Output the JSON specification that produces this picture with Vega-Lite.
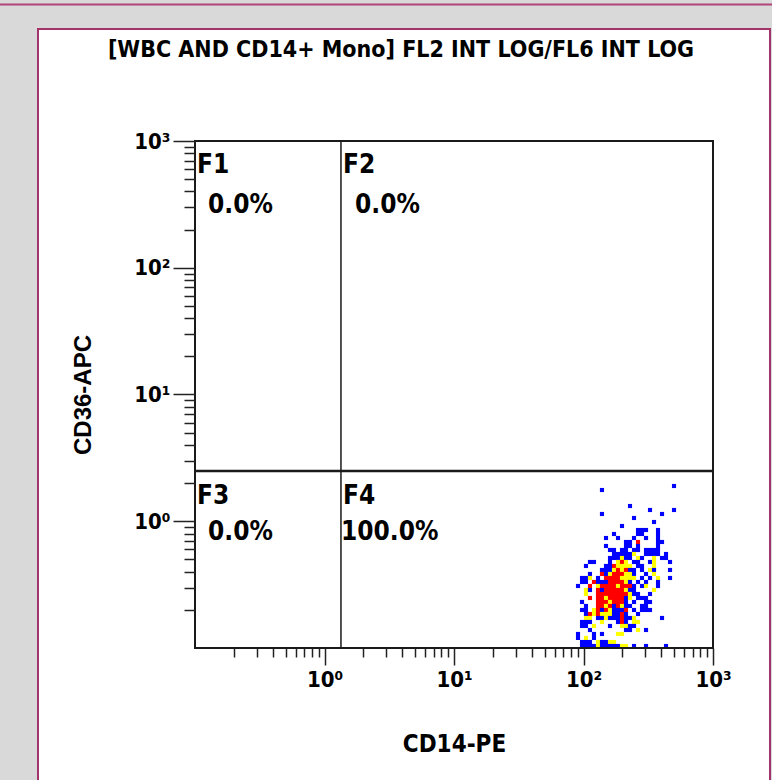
{
  "$schema": "https://vega.github.io/schema/vega-lite/v6.json",
  "width": 518,
  "height": 507,
  "autosize": "none",
  "padding": {"left": 195, "top": 141, "right": 59, "bottom": 132},
  "background": "#d9d9d9",
  "config": {"view": {"stroke": null}},
  "title": {
    "text": "[WBC AND CD14+ Mono] FL2 INT LOG/FL6 INT LOG",
    "anchor": "middle",
    "frame": "group",
    "dx": -53,
    "offset": -58,
    "font": "Liberation Sans Narrow, Arial Narrow, DejaVu Sans Condensed, sans-serif",
    "fontSize": 23,
    "fontWeight": "bold",
    "color": "#000000"
  },
  "datasets": {
    "cells": [
      {"x":500.0,"y":1.897,"level":"low"},
      {"x":138.9,"y":1.764,"level":"low"},
      {"x":228.6,"y":1.319,"level":"low"},
      {"x":326.3,"y":1.227,"level":"low"},{"x":500.0,"y":1.227,"level":"low"},
      {"x":138.9,"y":1.141,"level":"low"},{"x":404.0,"y":1.141,"level":"low"},
      {"x":245.5,"y":1.061,"level":"low"},
      {"x":350.4,"y":0.9865,"level":"low"},
      {"x":198.3,"y":0.9174,"level":"low"},
      {"x":263.6,"y":0.8531,"level":"low"},{"x":283.0,"y":0.8531,"level":"low"},{"x":303.9,"y":0.8531,"level":"low"},{"x":376.2,"y":0.8531,"level":"low"},
      {"x":172.0,"y":0.7933,"level":"low"},{"x":263.6,"y":0.7933,"level":"low"},{"x":283.0,"y":0.7933,"level":"low"},{"x":376.2,"y":0.7933,"level":"low"},
      {"x":149.2,"y":0.7377,"level":"low"},{"x":184.7,"y":0.7377,"level":"low"},{"x":245.5,"y":0.7377,"level":"low"},{"x":303.9,"y":0.7377,"level":"low"},{"x":376.2,"y":0.7377,"level":"low"},
      {"x":212.9,"y":0.6861,"level":"low"},{"x":228.6,"y":0.6861,"level":"low"},{"x":263.6,"y":0.6861,"level":"high"},{"x":376.2,"y":0.6861,"level":"low"},{"x":404.0,"y":0.6861,"level":"low"},
      {"x":149.2,"y":0.638,"level":"low"},{"x":212.9,"y":0.638,"level":"low"},{"x":228.6,"y":0.638,"level":"low"},{"x":263.6,"y":0.638,"level":"low"},{"x":376.2,"y":0.638,"level":"low"},
      {"x":160.2,"y":0.5933,"level":"low"},{"x":172.0,"y":0.5933,"level":"low"},{"x":198.3,"y":0.5933,"level":"low"},{"x":212.9,"y":0.5933,"level":"low"},{"x":245.5,"y":0.5933,"level":"low"},{"x":263.6,"y":0.5933,"level":"low"},{"x":303.9,"y":0.5933,"level":"low"},{"x":326.3,"y":0.5933,"level":"low"},{"x":350.4,"y":0.5933,"level":"low"},{"x":376.2,"y":0.5933,"level":"low"},
      {"x":172.0,"y":0.5517,"level":"low"},{"x":184.7,"y":0.5517,"level":"low"},{"x":198.3,"y":0.5517,"level":"low"},{"x":212.9,"y":0.5517,"level":"low"},{"x":228.6,"y":0.5517,"level":"low"},{"x":245.5,"y":0.5517,"level":"mid"},{"x":303.9,"y":0.5517,"level":"low"},{"x":326.3,"y":0.5517,"level":"low"},{"x":350.4,"y":0.5517,"level":"low"},{"x":376.2,"y":0.5517,"level":"low"},{"x":433.7,"y":0.5517,"level":"low"},
      {"x":160.2,"y":0.5131,"level":"low"},{"x":172.0,"y":0.5131,"level":"low"},{"x":184.7,"y":0.5131,"level":"low"},{"x":198.3,"y":0.5131,"level":"mid"},{"x":212.9,"y":0.5131,"level":"low"},{"x":228.6,"y":0.5131,"level":"low"},{"x":263.6,"y":0.5131,"level":"mid"},{"x":283.0,"y":0.5131,"level":"low"},{"x":350.4,"y":0.5131,"level":"mid"},{"x":404.0,"y":0.5131,"level":"low"},{"x":433.7,"y":0.5131,"level":"low"},
      {"x":112.2,"y":0.4771,"level":"low"},{"x":120.5,"y":0.4771,"level":"low"},{"x":160.2,"y":0.4771,"level":"low"},{"x":184.7,"y":0.4771,"level":"mid"},{"x":198.3,"y":0.4771,"level":"high"},{"x":212.9,"y":0.4771,"level":"mid"},{"x":245.5,"y":0.4771,"level":"low"},{"x":263.6,"y":0.4771,"level":"low"},{"x":326.3,"y":0.4771,"level":"low"},{"x":350.4,"y":0.4771,"level":"mid"},{"x":465.7,"y":0.4771,"level":"low"},
      {"x":104.5,"y":0.4437,"level":"low"},{"x":149.2,"y":0.4437,"level":"low"},{"x":160.2,"y":0.4437,"level":"low"},{"x":172.0,"y":0.4437,"level":"high"},{"x":184.7,"y":0.4437,"level":"mid"},{"x":198.3,"y":0.4437,"level":"mid"},{"x":212.9,"y":0.4437,"level":"mid"},{"x":228.6,"y":0.4437,"level":"mid"},{"x":263.6,"y":0.4437,"level":"low"},{"x":283.0,"y":0.4437,"level":"low"},{"x":350.4,"y":0.4437,"level":"mid"},
      {"x":138.9,"y":0.4126,"level":"low"},{"x":149.2,"y":0.4126,"level":"low"},{"x":160.2,"y":0.4126,"level":"low"},{"x":172.0,"y":0.4126,"level":"mid"},{"x":184.7,"y":0.4126,"level":"high"},{"x":198.3,"y":0.4126,"level":"mid"},{"x":212.9,"y":0.4126,"level":"high"},{"x":228.6,"y":0.4126,"level":"low"},{"x":245.5,"y":0.4126,"level":"low"},{"x":283.0,"y":0.4126,"level":"low"},{"x":326.3,"y":0.4126,"level":"mid"},{"x":350.4,"y":0.4126,"level":"low"},{"x":465.7,"y":0.4126,"level":"low"},
      {"x":112.2,"y":0.3837,"level":"low"},{"x":138.9,"y":0.3837,"level":"high"},{"x":149.2,"y":0.3837,"level":"low"},{"x":160.2,"y":0.3837,"level":"mid"},{"x":172.0,"y":0.3837,"level":"high"},{"x":184.7,"y":0.3837,"level":"high"},{"x":198.3,"y":0.3837,"level":"high"},{"x":212.9,"y":0.3837,"level":"mid"},{"x":228.6,"y":0.3837,"level":"mid"},{"x":245.5,"y":0.3837,"level":"low"},{"x":303.9,"y":0.3837,"level":"low"},{"x":350.4,"y":0.3837,"level":"mid"},
      {"x":97.4,"y":0.3568,"level":"low"},{"x":104.5,"y":0.3568,"level":"low"},{"x":112.2,"y":0.3568,"level":"mid"},{"x":129.4,"y":0.3568,"level":"low"},{"x":149.2,"y":0.3568,"level":"high"},{"x":160.2,"y":0.3568,"level":"high"},{"x":172.0,"y":0.3568,"level":"high"},{"x":184.7,"y":0.3568,"level":"high"},{"x":198.3,"y":0.3568,"level":"mid"},{"x":212.9,"y":0.3568,"level":"mid"},{"x":228.6,"y":0.3568,"level":"mid"},{"x":245.5,"y":0.3568,"level":"mid"},{"x":283.0,"y":0.3568,"level":"low"},{"x":326.3,"y":0.3568,"level":"low"},{"x":376.2,"y":0.3568,"level":"mid"},{"x":465.7,"y":0.3568,"level":"low"},
      {"x":97.4,"y":0.3318,"level":"low"},{"x":104.5,"y":0.3318,"level":"low"},{"x":120.5,"y":0.3318,"level":"high"},{"x":129.4,"y":0.3318,"level":"low"},{"x":138.9,"y":0.3318,"level":"low"},{"x":149.2,"y":0.3318,"level":"low"},{"x":160.2,"y":0.3318,"level":"high"},{"x":172.0,"y":0.3318,"level":"high"},{"x":184.7,"y":0.3318,"level":"high"},{"x":198.3,"y":0.3318,"level":"high"},{"x":212.9,"y":0.3318,"level":"mid"},{"x":228.6,"y":0.3318,"level":"low"},{"x":263.6,"y":0.3318,"level":"low"},{"x":303.9,"y":0.3318,"level":"low"},{"x":376.2,"y":0.3318,"level":"low"},
      {"x":90.7,"y":0.3085,"level":"low"},{"x":112.2,"y":0.3085,"level":"high"},{"x":129.4,"y":0.3085,"level":"mid"},{"x":138.9,"y":0.3085,"level":"high"},{"x":149.2,"y":0.3085,"level":"high"},{"x":160.2,"y":0.3085,"level":"high"},{"x":172.0,"y":0.3085,"level":"high"},{"x":184.7,"y":0.3085,"level":"mid"},{"x":198.3,"y":0.3085,"level":"high"},{"x":212.9,"y":0.3085,"level":"high"},{"x":228.6,"y":0.3085,"level":"high"},{"x":245.5,"y":0.3085,"level":"low"},{"x":283.0,"y":0.3085,"level":"low"},{"x":303.9,"y":0.3085,"level":"mid"},{"x":376.2,"y":0.3085,"level":"low"},
      {"x":104.5,"y":0.2869,"level":"mid"},{"x":112.2,"y":0.2869,"level":"low"},{"x":129.4,"y":0.2869,"level":"high"},{"x":138.9,"y":0.2869,"level":"low"},{"x":149.2,"y":0.2869,"level":"high"},{"x":160.2,"y":0.2869,"level":"high"},{"x":172.0,"y":0.2869,"level":"high"},{"x":184.7,"y":0.2869,"level":"high"},{"x":198.3,"y":0.2869,"level":"high"},{"x":212.9,"y":0.2869,"level":"mid"},{"x":228.6,"y":0.2869,"level":"low"},{"x":245.5,"y":0.2869,"level":"low"},{"x":350.4,"y":0.2869,"level":"mid"},
      {"x":104.5,"y":0.2668,"level":"mid"},{"x":129.4,"y":0.2668,"level":"high"},{"x":138.9,"y":0.2668,"level":"high"},{"x":149.2,"y":0.2668,"level":"high"},{"x":160.2,"y":0.2668,"level":"high"},{"x":172.0,"y":0.2668,"level":"high"},{"x":184.7,"y":0.2668,"level":"high"},{"x":198.3,"y":0.2668,"level":"high"},{"x":212.9,"y":0.2668,"level":"high"},{"x":228.6,"y":0.2668,"level":"mid"},{"x":245.5,"y":0.2668,"level":"low"},{"x":263.6,"y":0.2668,"level":"low"},{"x":326.3,"y":0.2668,"level":"low"},
      {"x":112.2,"y":0.2481,"level":"high"},{"x":129.4,"y":0.2481,"level":"high"},{"x":138.9,"y":0.2481,"level":"high"},{"x":149.2,"y":0.2481,"level":"mid"},{"x":160.2,"y":0.2481,"level":"high"},{"x":172.0,"y":0.2481,"level":"high"},{"x":184.7,"y":0.2481,"level":"high"},{"x":198.3,"y":0.2481,"level":"high"},{"x":212.9,"y":0.2481,"level":"low"},{"x":228.6,"y":0.2481,"level":"mid"},{"x":263.6,"y":0.2481,"level":"low"},{"x":283.0,"y":0.2481,"level":"low"},{"x":303.9,"y":0.2481,"level":"low"},
      {"x":97.4,"y":0.2307,"level":"low"},{"x":129.4,"y":0.2307,"level":"high"},{"x":138.9,"y":0.2307,"level":"high"},{"x":149.2,"y":0.2307,"level":"high"},{"x":160.2,"y":0.2307,"level":"mid"},{"x":172.0,"y":0.2307,"level":"high"},{"x":184.7,"y":0.2307,"level":"high"},{"x":198.3,"y":0.2307,"level":"high"},{"x":212.9,"y":0.2307,"level":"low"},{"x":245.5,"y":0.2307,"level":"low"},{"x":303.9,"y":0.2307,"level":"low"},{"x":326.3,"y":0.2307,"level":"low"},
      {"x":104.5,"y":0.2146,"level":"low"},{"x":129.4,"y":0.2146,"level":"high"},{"x":138.9,"y":0.2146,"level":"high"},{"x":149.2,"y":0.2146,"level":"mid"},{"x":160.2,"y":0.2146,"level":"high"},{"x":172.0,"y":0.2146,"level":"low"},{"x":184.7,"y":0.2146,"level":"high"},{"x":198.3,"y":0.2146,"level":"mid"},{"x":212.9,"y":0.2146,"level":"low"},{"x":228.6,"y":0.2146,"level":"low"},{"x":283.0,"y":0.2146,"level":"low"},{"x":303.9,"y":0.2146,"level":"low"},
      {"x":97.4,"y":0.1995,"level":"low"},{"x":104.5,"y":0.1995,"level":"low"},{"x":120.5,"y":0.1995,"level":"mid"},{"x":129.4,"y":0.1995,"level":"high"},{"x":138.9,"y":0.1995,"level":"low"},{"x":149.2,"y":0.1995,"level":"high"},{"x":160.2,"y":0.1995,"level":"mid"},{"x":172.0,"y":0.1995,"level":"low"},{"x":184.7,"y":0.1995,"level":"low"},{"x":198.3,"y":0.1995,"level":"low"},{"x":212.9,"y":0.1995,"level":"high"},{"x":245.5,"y":0.1995,"level":"low"},{"x":283.0,"y":0.1995,"level":"low"},{"x":303.9,"y":0.1995,"level":"low"},{"x":326.3,"y":0.1995,"level":"low"},
      {"x":104.5,"y":0.1855,"level":"low"},{"x":112.2,"y":0.1855,"level":"high"},{"x":120.5,"y":0.1855,"level":"mid"},{"x":129.4,"y":0.1855,"level":"high"},{"x":138.9,"y":0.1855,"level":"mid"},{"x":149.2,"y":0.1855,"level":"mid"},{"x":160.2,"y":0.1855,"level":"mid"},{"x":172.0,"y":0.1855,"level":"low"},{"x":184.7,"y":0.1855,"level":"low"},{"x":198.3,"y":0.1855,"level":"high"},{"x":212.9,"y":0.1855,"level":"low"},{"x":263.6,"y":0.1855,"level":"low"},
      {"x":104.5,"y":0.1725,"level":"mid"},{"x":112.2,"y":0.1725,"level":"mid"},{"x":129.4,"y":0.1725,"level":"low"},{"x":138.9,"y":0.1725,"level":"low"},{"x":149.2,"y":0.1725,"level":"mid"},{"x":160.2,"y":0.1725,"level":"low"},{"x":172.0,"y":0.1725,"level":"low"},{"x":184.7,"y":0.1725,"level":"low"},{"x":198.3,"y":0.1725,"level":"high"},{"x":212.9,"y":0.1725,"level":"low"},{"x":228.6,"y":0.1725,"level":"low"},{"x":245.5,"y":0.1725,"level":"mid"},{"x":404.0,"y":0.1725,"level":"low"},
      {"x":97.4,"y":0.1604,"level":"low"},{"x":104.5,"y":0.1604,"level":"low"},{"x":112.2,"y":0.1604,"level":"low"},{"x":138.9,"y":0.1604,"level":"mid"},{"x":184.7,"y":0.1604,"level":"low"},{"x":198.3,"y":0.1604,"level":"high"},{"x":212.9,"y":0.1604,"level":"low"},{"x":245.5,"y":0.1604,"level":"mid"},{"x":263.6,"y":0.1604,"level":"mid"},
      {"x":97.4,"y":0.1492,"level":"low"},{"x":104.5,"y":0.1492,"level":"low"},{"x":120.5,"y":0.1492,"level":"mid"},{"x":160.2,"y":0.1492,"level":"low"},{"x":198.3,"y":0.1492,"level":"mid"},{"x":212.9,"y":0.1492,"level":"mid"},{"x":228.6,"y":0.1492,"level":"low"},{"x":245.5,"y":0.1492,"level":"low"},
      {"x":112.2,"y":0.1387,"level":"low"},{"x":212.9,"y":0.1387,"level":"low"},{"x":228.6,"y":0.1387,"level":"low"},{"x":263.6,"y":0.1387,"level":"mid"},{"x":303.9,"y":0.1387,"level":"low"},
      {"x":90.7,"y":0.129,"level":"low"},{"x":120.5,"y":0.129,"level":"low"},{"x":138.9,"y":0.129,"level":"low"},{"x":184.7,"y":0.129,"level":"mid"},{"x":198.3,"y":0.129,"level":"mid"},
      {"x":90.7,"y":0.12,"level":"low"},{"x":104.5,"y":0.12,"level":"mid"},{"x":120.5,"y":0.12,"level":"low"},
      {"x":97.4,"y":0.1115,"level":"low"},{"x":104.5,"y":0.1115,"level":"low"},{"x":112.2,"y":0.1115,"level":"low"},{"x":129.4,"y":0.1115,"level":"mid"},{"x":138.9,"y":0.1115,"level":"low"},{"x":149.2,"y":0.1115,"level":"low"},{"x":160.2,"y":0.1115,"level":"mid"},{"x":172.0,"y":0.1115,"level":"mid"},
      {"x":97.4,"y":0.1037,"level":"low"},{"x":104.5,"y":0.1037,"level":"low"},{"x":112.2,"y":0.1037,"level":"low"},{"x":120.5,"y":0.1037,"level":"low"},{"x":129.4,"y":0.1037,"level":"mid"},{"x":138.9,"y":0.1037,"level":"low"},{"x":149.2,"y":0.1037,"level":"low"},{"x":160.2,"y":0.1037,"level":"low"},{"x":172.0,"y":0.1037,"level":"low"},{"x":184.7,"y":0.1037,"level":"low"},{"x":198.3,"y":0.1037,"level":"mid"},{"x":212.9,"y":0.1037,"level":"mid"},{"x":245.5,"y":0.1037,"level":"low"},{"x":303.9,"y":0.1037,"level":"low"},{"x":433.7,"y":0.1037,"level":"low"}
    ],
    "labels": [
      {"label":"F1","x":0.1036,"y":646.7},
      {"label":"0.0%","x":0.126,"y":312.6},
      {"label":"F2","x":1.39,"y":646.7},
      {"label":"0.0%","x":1.72,"y":312.6},
      {"label":"F3","x":0.1036,"y":1.582},
      {"label":"0.0%","x":0.126,"y":0.8226},
      {"label":"F4","x":1.39,"y":1.582},
      {"label":"100.0%","x":1.341,"y":0.8226}
    ]
  },
  "layer": [
    {
      "data": {"values": [{}]},
      "mark": {"type": "rect", "fill": "#ffffff", "stroke": "#a3346b", "strokeWidth": 2, "clip": false},
      "encoding": {
        "x": {"datum": 0.006133, "type": "quantitative", "scale": {"type": "log", "domain": [0.1, 1000], "nice": false}},
        "x2": {"datum": 2755},
        "y": {"datum": 7648, "type": "quantitative", "scale": {"type": "log", "domain": [0.1, 1000], "nice": false}},
        "y2": {"datum": 0.00758}
      }
    },
    {
      "data": {"values": [{}]},
      "mark": {"type": "rule", "stroke": "#b0457a", "strokeWidth": 2, "clip": false},
      "encoding": {
        "x": {"datum": 0.00312, "type": "quantitative", "scale": {"type": "log", "domain": [0.1, 1000], "nice": false}},
        "x2": {"datum": 2855},
        "y": {"datum": 11937, "type": "quantitative", "scale": {"type": "log", "domain": [0.1, 1000], "nice": false}}
      }
    },
    {
      "data": {"name": "cells"},
      "mark": {"type": "square", "size": 17, "opacity": 1, "strokeWidth": 0},
      "encoding": {
        "x": {
          "field": "x", "type": "quantitative",
          "scale": {"type": "log", "domain": [0.1, 1000], "nice": false},
          "axis": {
            "title": "CD14-PE",
            "values": [0.2,0.3,0.4,0.5,0.6,0.7,0.8,0.9,1,2,3,4,5,6,7,8,9,10,20,30,40,50,60,70,80,90,100,200,300,400,500,600,700,800,900,1000],
            "labelExpr": "datum.value==1?'10⁰':datum.value==10?'10¹':datum.value==100?'10²':datum.value==1000?'10³':''",
            "tickSize": {"condition": {"test": "indexof([1,10,100,1000], datum.value) >= 0", "value": 17}, "value": 9},
            "tickColor": "#222222", "tickWidth": 1.5,
            "domain": false, "grid": false,
            "labelFont": "Liberation Sans Narrow, Arial Narrow, DejaVu Sans Condensed, sans-serif",
            "labelFontSize": 22, "labelFontWeight": "bold", "labelColor": "#000000", "labelPadding": 4,
            "labelOverlap": false, "labelFlush": false,
            "titleFont": "Liberation Sans Narrow, Arial Narrow, DejaVu Sans Condensed, sans-serif",
            "titleFontSize": 24, "titleFontWeight": "bold", "titleColor": "#000000", "titlePadding": 42,
            "zindex": 1
          }
        },
        "y": {
          "field": "y", "type": "quantitative",
          "scale": {"type": "log", "domain": [0.1, 1000], "nice": false},
          "axis": {
            "title": "CD36-APC",
            "values": [0.2,0.3,0.4,0.5,0.6,0.7,0.8,0.9,1,2,3,4,5,6,7,8,9,10,20,30,40,50,60,70,80,90,100,200,300,400,500,600,700,800,900,1000],
            "labelExpr": "datum.value==1?'10⁰':datum.value==10?'10¹':datum.value==100?'10²':datum.value==1000?'10³':''",
            "tickSize": {"condition": {"test": "indexof([1,10,100,1000], datum.value) >= 0", "value": 22}, "value": 11},
            "tickColor": "#222222", "tickWidth": 1.5,
            "domain": false, "grid": false,
            "labelFont": "Liberation Sans Narrow, Arial Narrow, DejaVu Sans Condensed, sans-serif",
            "labelFontSize": 22, "labelFontWeight": "bold", "labelColor": "#000000", "labelPadding": 3,
            "labelOverlap": false, "labelFlush": false,
            "titleFont": "Liberation Sans, Arial, sans-serif",
            "titleFontSize": 24, "titleFontWeight": "bold", "titleColor": "#000000", "titlePadding": 38,
            "zindex": 1
          }
        },
        "color": {
          "field": "level", "type": "nominal",
          "scale": {"domain": ["low", "mid", "high"], "range": ["#0000ff", "#ffff00", "#ff0000"]},
          "legend": null
        }
      }
    },
    {
      "data": {"values": [{}]},
      "mark": {"type": "rule", "stroke": "#1a1a1a", "strokeWidth": 1.5},
      "encoding": {
        "x": {"datum": 1.34, "type": "quantitative", "scale": {"type": "log", "domain": [0.1, 1000], "nice": false}},
        "y": {"datum": 0.1, "type": "quantitative", "scale": {"type": "log", "domain": [0.1, 1000], "nice": false}},
        "y2": {"datum": 1000}
      }
    },
    {
      "data": {"values": [{}]},
      "mark": {"type": "rule", "stroke": "#1a1a1a", "strokeWidth": 2.5},
      "encoding": {
        "y": {"datum": 2.49, "type": "quantitative", "scale": {"type": "log", "domain": [0.1, 1000], "nice": false}},
        "x": {"datum": 0.1, "type": "quantitative", "scale": {"type": "log", "domain": [0.1, 1000], "nice": false}},
        "x2": {"datum": 1000}
      }
    },
    {
      "data": {"values": [{}]},
      "mark": {"type": "rect", "fill": "#ffffff", "fillOpacity": 0, "stroke": "#1a1a1a", "strokeWidth": 2},
      "encoding": {
        "x": {"datum": 0.1, "type": "quantitative", "scale": {"type": "log", "domain": [0.1, 1000], "nice": false}},
        "x2": {"datum": 1000},
        "y": {"datum": 0.1, "type": "quantitative", "scale": {"type": "log", "domain": [0.1, 1000], "nice": false}},
        "y2": {"datum": 1000}
      }
    },
    {
      "data": {"name": "labels"},
      "mark": {"type": "text", "align": "left", "baseline": "middle", "font": "Liberation Sans Narrow, Arial Narrow, DejaVu Sans Condensed, sans-serif", "fontSize": 26, "fontWeight": "bold", "color": "#000000"},
      "encoding": {
        "x": {"field": "x", "type": "quantitative", "scale": {"type": "log", "domain": [0.1, 1000], "nice": false}},
        "y": {"field": "y", "type": "quantitative", "scale": {"type": "log", "domain": [0.1, 1000], "nice": false}},
        "text": {"field": "label", "type": "nominal"}
      }
    }
  ]
}
